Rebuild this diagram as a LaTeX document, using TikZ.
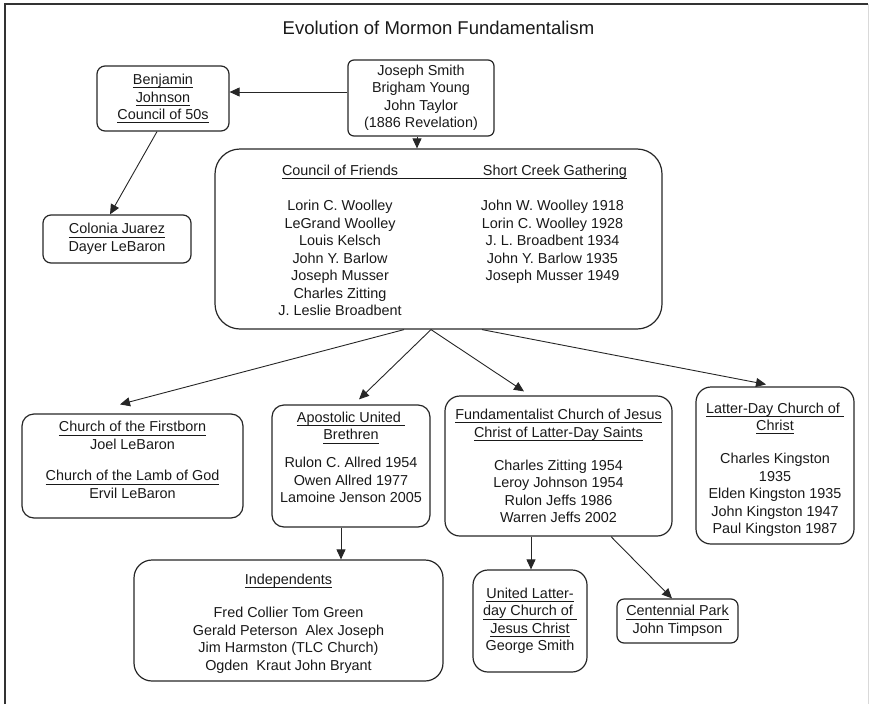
\documentclass[tikz,border=0pt]{standalone}
\usepackage{fontspec}
\setmainfont{Liberation Sans}
\usetikzlibrary{arrows.meta}
\newcommand{\boxfont}{\fontsize{14.4}{17.5}\selectfont}
\newcommand{\uln}[1]{\begingroup\setbox0=\hbox{#1}\rlap{\rule[-3.4pt]{\wd0}{0.8pt}}\box0\endgroup}

\begin{document}
\begin{tikzpicture}[x=1pt, y=-1pt,
  every node/.style={font=\boxfont, text=black!90},
  box/.style={draw=black!85, line width=1.2pt, rounded corners=#1, align=center, inner sep=0pt},
  box/.default=10pt,
  names/.style={align=center, inner sep=0pt},
  arr/.style={-{Triangle[length=10pt,width=9pt]}, line width=0.9pt, draw=black!85}]
\useasboundingbox (0,0) rectangle (869,704);

% frame
\draw[line width=1.2pt, black!80] (5,704) -- (5,4) -- (868,4);
\draw[line width=1pt, black!15] (868,4) -- (868,704);

\node (title) at (438.5,28) [font=\fontsize{18.5}{22}\selectfont] {Evolution of Mormon Fundamentalism};

% top row
\node[box=6pt, minimum width=146pt, minimum height=76pt] (joseph) at (421,98)
  {Joseph Smith\\Brigham Young\\John Taylor\\(1886 Revelation)};
\node[box=8pt, minimum width=132pt, minimum height=65pt] (benjamin) at (163,98.5)
  {\uln{Benjamin}\\\uln{Johnson}\\\uln{Council of 50s}};
\node[box=8pt, minimum width=148pt, minimum height=48pt] (colonia) at (117,239)
  {\uln{Colonia Juarez}\\Dayer LeBaron};

% council
\node[box=25pt, minimum width=447pt, minimum height=180pt] (council) at (438.5,239) {};
\node[names] (councilhead) at (454.5,172)
  {\uln{\makebox[345pt]{Council of Friends\hfill Short Creek Gathering}}};
\node[names, anchor=north] (friends) at (340,200)
  {Lorin C. Woolley\\LeGrand Woolley\\Louis Kelsch\\John Y. Barlow\\Joseph Musser\\Charles Zitting\\J. Leslie Broadbent};
\node[names, anchor=north] (creek) at (552.5,200)
  {John W. Woolley 1918\\Lorin C. Woolley 1928\\J. L. Broadbent 1934\\John Y. Barlow 1935\\Joseph Musser 1949};

% groups
\node[box=12pt, minimum width=221pt, minimum height=104pt] (firstborn) at (132.5,466)
  {\uln{Church of the Firstborn}\\Joel LeBaron\\[14pt]\uln{Church of the Lamb of God}\\Ervil LeBaron\rule[-12pt]{0pt}{1pt}};
\node[box=12pt, minimum width=158pt, minimum height=122pt] (aub) at (351,466)
  {\uln{Apostolic United\ }\\\uln{Brethren}\\[10.5pt]Rulon C. Allred 1954\\Owen Allred 1977\\Lamoine Jenson 2005\rule[-17pt]{0pt}{1pt}};
\node[box=15pt, minimum width=227pt, minimum height=140pt] (flds) at (558.5,466)
  {\uln{Fundamentalist Church of Jesus}\\\uln{Christ of Latter-Day Saints}\\[15.5pt]Charles Zitting 1954\\Leroy Johnson 1954\\Rulon Jeffs 1986\\Warren Jeffs 2002};
\node[box=15pt, minimum width=158pt, minimum height=157pt] (ldc) at (775,465.5)
  {\rule{0pt}{18.5pt}\uln{Latter-Day Church of\ }\\\uln{Christ}\\[15.5pt]Charles Kingston\\1935\\Elden Kingston 1935\\John Kingston 1947\\Paul Kingston 1987};

% bottom row
\node[box=18pt, minimum width=309pt, minimum height=121pt] (independents) at (288.5,620.5)
  {\rule{0pt}{17pt}\uln{Independents}\\[15.5pt]Fred Collier Tom Green\\Gerald Peterson\ \ Alex Joseph\\Jim Harmston (TLC Church)\\Ogden\ \ Kraut John Bryant};
\node[box=15pt, minimum width=114pt, minimum height=102pt] (uldc) at (530,621)
  {\uln{United Latter-}\\\uln{day Church of\ }\\\uln{Jesus Christ}\\George Smith};
\node[box=7pt, minimum width=121pt, minimum height=44pt] (centennial) at (677.5,621)
  {\uln{Centennial Park}\\John Timpson};

% arrows
\draw[arr] ([yshift=6pt]joseph.west) -- ([yshift=6pt]joseph.west -| benjamin.east);
\draw[arr] ([xshift=-4pt]joseph.south) -- ([xshift=-4pt]joseph.south |- council.north);
\draw[arr] ([xshift=-6pt]benjamin.south) -- ([xshift=-7pt]colonia.north);
\draw[arr] ([xshift=-34.5pt]council.south) -- ([xshift=-12.5pt,yshift=9pt]firstborn.north);
\draw[arr] ([xshift=-7.5pt]council.south) -- ([xshift=8pt,yshift=5pt]aub.north);
\draw[arr] ([xshift=-7.5pt]council.south) -- ([xshift=-34.5pt,yshift=4pt]flds.north);
\draw[arr] ([xshift=43.5pt]council.south) -- ([xshift=-9pt,yshift=2pt]ldc.north);
\draw[arr] ([xshift=-10pt]aub.south) -- ([xshift=-10pt]aub.south |- independents.north);
\draw[arr] ([xshift=-27.5pt]flds.south) -- ([xshift=-27.5pt]flds.south |- uldc.north);
\draw[arr] ([xshift=52.5pt]flds.south) -- ([xshift=-5.5pt]centennial.north);
\end{tikzpicture}
\end{document}
